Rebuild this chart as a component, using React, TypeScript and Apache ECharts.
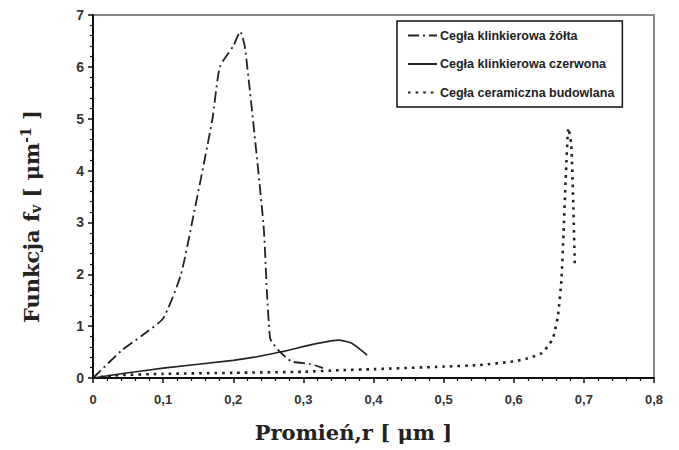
import React, { useEffect, useRef } from "react";
import * as echarts from "echarts";

const seriesNames = [
  "Cegła klinkierowa żółta",
  "Cegła klinkierowa czerwona",
  "Cegła ceramiczna budowlana",
];

const yellowX = [0, 0.04, 0.07, 0.1, 0.125, 0.141, 0.17, 0.181, 0.2, 0.21, 0.217, 0.243, 0.248, 0.2525, 0.257, 0.267, 0.283, 0.31, 0.328];
const yellowY = [0, 0.52, 0.82, 1.15, 1.98, 2.98, 4.97, 6.0, 6.4, 6.68, 6.35, 2.98, 1.66, 0.77, 0.66, 0.5, 0.32, 0.27, 0.19];

const redX = [0, 0.05, 0.1, 0.2, 0.238, 0.267, 0.35, 0.369, 0.391];
const redY = [0, 0.1, 0.19, 0.34, 0.42, 0.5, 0.73, 0.67, 0.44];

const ceramX = [0, 0.03, 0.1, 0.2, 0.3, 0.352, 0.4, 0.5, 0.55, 0.6, 0.62, 0.64, 0.65, 0.656, 0.663, 0.668, 0.671, 0.674, 0.678, 0.682, 0.685, 0.687];
const ceramY = [0, 0.05, 0.08, 0.1, 0.12, 0.15, 0.17, 0.22, 0.25, 0.32, 0.38, 0.48, 0.64, 0.77, 1.2, 1.9, 2.8, 3.8, 4.82, 4.5, 3.3, 2.2];

const xTicks = { min: 0, max: 0.8, interval: 0.1 };
const yTicks = { min: 0, max: 7, interval: 1 };

const zip = (xs: number[], ys: number[]) => xs.map((x, i) => [x, ys[i]]);

export default function App() {
  const ref = useRef<HTMLDivElement>(null);
  useEffect(() => {
    if (!ref.current) return;
    const chart = echarts.init(ref.current, null, { renderer: "svg" });
    const axisLabelStyle = {
      fontFamily: "Liberation Sans, Arial, sans-serif",
      fontWeight: "bold" as const,
      fontSize: 14,
      color: "#333",
    };
    const titleFont = {
      fontFamily: "DejaVu Serif, serif",
      fontWeight: "bold" as const,
      color: "#222",
    };
    chart.setOption({
      animation: false,
      backgroundColor: "#fff",
      grid: {
        left: 93,
        right: 25,
        top: 15,
        bottom: 72,
        show: true,
        borderColor: "#888",
        borderWidth: 2,
      },
      legend: {
        orient: "vertical",
        left: 397,
        top: 21,
        padding: [8, 8, 8, 10],
        itemWidth: 29,
        itemHeight: 10,
        itemGap: 15.5,
        borderColor: "#111",
        borderWidth: 1.5,
        backgroundColor: "#fff",
        itemStyle: { opacity: 0 },
        textStyle: {
          fontFamily: "Liberation Sans, Arial, sans-serif",
          fontSize: 12.5,
          fontWeight: "bold",
          color: "#222",
          padding: [0, 0, 0, -2],
        },
        data: seriesNames,
      },
      xAxis: {
        type: "value",
        min: xTicks.min,
        max: xTicks.max,
        interval: xTicks.interval,
        name: "Promień,r [ μm ]",
        nameLocation: "middle",
        nameGap: 44,
        nameTextStyle: { ...titleFont, fontSize: 21, padding: [0, 40, 0, 0] },
        axisLine: { show: true, lineStyle: { color: "#111", width: 2 } },
        axisTick: { show: true, length: 5, lineStyle: { color: "#111", width: 1.5 } },
        minorTick: { show: true, splitNumber: 5, length: 3, lineStyle: { color: "#111", width: 1.2 } },
        splitLine: { show: false },
        axisLabel: {
          ...axisLabelStyle,
          fontSize: 13,
          margin: 15,
          formatter: (v: number) => (v === 0 ? "0" : v.toFixed(1).replace(".", ",")),
        },
      },
      yAxis: {
        type: "value",
        min: yTicks.min,
        max: yTicks.max,
        interval: yTicks.interval,
        name: "Funkcja f{sub|v} [ μm{sup|-1} ]",
        nameLocation: "middle",
        nameGap: 50,
        nameRotate: 90,
        nameTextStyle: {
          ...titleFont,
          fontSize: 21,
          padding: [0, 40, 0, 0],
          rich: {
            sub: { ...titleFont, fontSize: 14, verticalAlign: "bottom", padding: [10, 0, 0, 0] },
            sup: { ...titleFont, fontSize: 14, verticalAlign: "top", padding: [0, 0, 10, 0] },
          },
        },
        axisLine: { show: true, lineStyle: { color: "#111", width: 2 } },
        axisTick: { show: true, length: 5, lineStyle: { color: "#111", width: 1.5 } },
        minorTick: { show: true, splitNumber: 5, length: 3, lineStyle: { color: "#111", width: 1.2 } },
        splitLine: { show: false },
        axisLabel: { ...axisLabelStyle, margin: 9 },
      },
      series: [
        {
          name: seriesNames[0],
          type: "line",
          data: zip(yellowX, yellowY),
          showSymbol: false,
          symbol: "none",
          smooth: 0.2,
          color: "#222",
          lineStyle: { color: "#222", width: 1.8, type: [11, 4, 2, 4] },
        },
        {
          name: seriesNames[1],
          type: "line",
          data: zip(redX, redY),
          showSymbol: false,
          symbol: "none",
          smooth: 0.2,
          color: "#222",
          lineStyle: { color: "#222", width: 1.6, type: "solid" },
        },
        {
          name: seriesNames[2],
          type: "line",
          data: zip(ceramX, ceramY),
          showSymbol: false,
          symbol: "none",
          smooth: 0.2,
          color: "#222",
          lineStyle: { color: "#222", width: 2.6, type: [2.6, 5] },
        },
      ],
    });
    return () => chart.dispose();
  }, []);
  return <div ref={ref} style={{ width: 679, height: 450, position: "absolute", left: 0, top: 0 }} />;
}
